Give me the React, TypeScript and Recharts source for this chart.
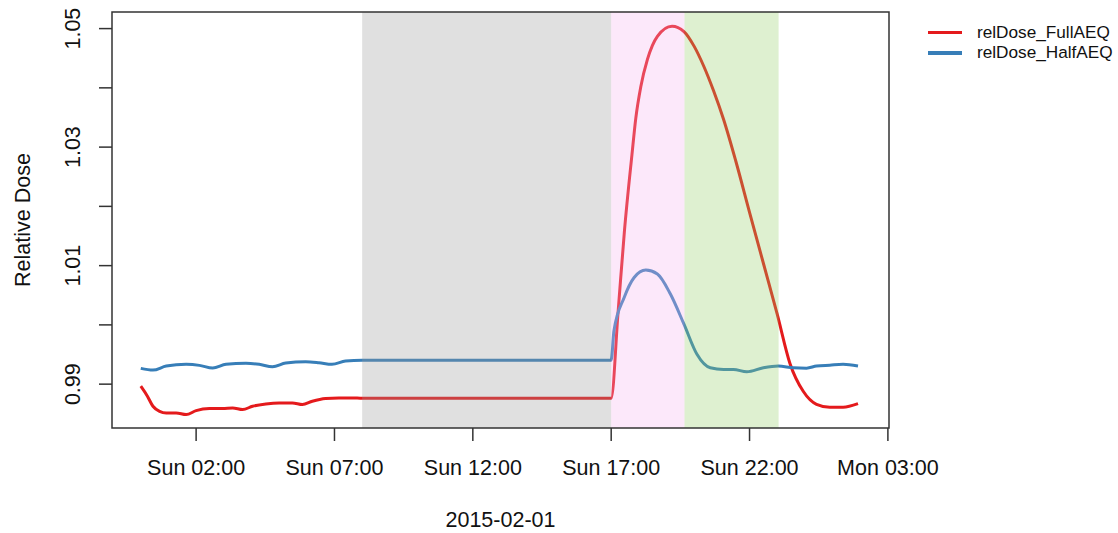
import React from "react";
import { LineChart, Line, XAxis, YAxis, ReferenceArea } from "recharts";

document.body.style.margin = "0";

const FONT = "'Liberation Sans', Arial, Helvetica, sans-serif";

// hours since 2015-02-01 00:00
const fullHours = [
  0, 0.24, 0.44, 0.68, 0.92, 1.28, 1.64, 2.0, 2.48, 2.96, 3.32, 3.68, 4.04, 4.52, 5.0, 5.48, 5.84, 6.2,
  6.68, 7.16, 7.64, 8.0, 17.0, 17.25, 17.48, 17.75, 17.89, 18.07, 18.31, 18.67, 19.2, 19.63, 20.0, 20.35,
  20.7, 21.06, 21.5, 22.0, 22.5, 23.0, 23.46, 23.94, 24.42, 24.9, 25.38, 25.92,
];
const fullDose = [
  0.98966, 0.98797, 0.98627, 0.98542, 0.98514, 0.98514, 0.98486, 0.98554, 0.98588, 0.98588, 0.98598,
  0.98571, 0.98627, 0.98666, 0.98683, 0.98683, 0.98656, 0.98712, 0.98758, 0.98768, 0.98768, 0.98762,
  0.98762, 1.0022, 1.0159, 1.0287, 1.0349, 1.0402, 1.0448, 1.0487, 1.0504, 1.0495, 1.047, 1.0436,
  1.0395, 1.0347, 1.0277, 1.019, 1.0104, 1.0018, 0.9935, 0.9888, 0.9866, 0.9861, 0.9861, 0.9867,
];

const halfHours = [
  0, 0.44, 0.92, 1.64, 2.12, 2.6, 3.08, 3.8, 4.28, 4.76, 5.24, 5.96, 6.44, 6.91, 7.4, 8.0, 17.0, 17.1,
  17.47, 17.83, 18.25, 18.67, 19.14, 19.63, 20.1, 20.58, 21.06, 21.42, 21.9, 22.5, 23.04, 23.58, 24.06,
  24.42, 24.9, 25.38, 25.92,
];
const halfDose = [
  0.99266, 0.99237, 0.99305, 0.99334, 0.99317, 0.99271, 0.99334, 0.99351, 0.99334, 0.99293, 0.99356,
  0.99378, 0.99361, 0.99334, 0.9939, 0.99405, 0.99405, 0.999, 1.00463, 1.008, 1.00925, 1.00859, 1.0052,
  1.00012, 0.99503, 0.99276, 0.99249, 0.99249, 0.99208, 0.99276, 0.99305, 0.99276, 0.9927, 0.99305,
  0.9932, 0.99334, 0.99305,
];

const xTicks = [2, 7, 12, 17, 22, 27];
const xTickLabels = ["Sun 02:00", "Sun 07:00", "Sun 12:00", "Sun 17:00", "Sun 22:00", "Mon 03:00"];
const yTicks = [0.99, 1.0, 1.01, 1.02, 1.03, 1.04, 1.05];
const yLabeled = [0.99, 1.01, 1.03, 1.05];

// shaded periods [start hour, end hour]
const periods = [
  { from: 8, to: 17, fill: "#989898" },
  { from: 17, to: 19.65, fill: "#F5B2EE" },
  { from: 19.65, to: 23.05, fill: "#91CD62" },
];

const xDomain = [-1.04, 27.04];
const yDomain = [0.9826, 1.0528];

const series = [
  { name: "relDose_FullAEQ", color: "#E41A1C", data: fullHours.map((h, i) => ({ hour: h, dose: fullDose[i] })) },
  { name: "relDose_HalfAEQ", color: "#377EB8", data: halfHours.map((h, i) => ({ hour: h, dose: halfDose[i] })) },
];

const YTick = (props: any) => {
  const { x, y, payload } = props;
  const v = payload.value;
  if (!yLabeled.some((l) => Math.abs(l - v) < 1e-9)) return null;
  const bx = x - 17;
  return (
    <text
      x={bx}
      y={y}
      transform={`rotate(-90, ${bx}, ${y})`}
      textAnchor="middle"
      fontSize={21.5}
      fontFamily={FONT}
      fill="#111"
    >
      {v.toFixed(2)}
    </text>
  );
};

const YLabel = (props: any) => {
  const { viewBox } = props;
  const cx = 30;
  const cy = viewBox.y + viewBox.height / 2;
  return (
    <text
      x={cx}
      y={cy}
      transform={`rotate(-90, ${cx}, ${cy})`}
      textAnchor="middle"
      fontSize={21.5}
      fontFamily={FONT}
      fill="#111"
    >
      Relative Dose
    </text>
  );
};

export default function App() {
  return (
    <div style={{ position: "relative", width: 1118, height: 533, background: "#fff" }}>
      <LineChart
        width={1118}
        height={533}
        margin={{ top: 12, right: 229, bottom: 0, left: 0 }}
        style={{ fontFamily: FONT }}
      >
        <XAxis
          type="number"
          dataKey="hour"
          domain={xDomain}
          ticks={xTicks}
          tickFormatter={(v: number) => xTickLabels[xTicks.indexOf(v)] ?? ""}
          height={105}
          axisLine={false}
          tickSize={13}
          tickMargin={19}
          tick={{ fontSize: 21.5, fill: "#111", fontFamily: FONT }}
          tickLine={{ stroke: "#333", strokeWidth: 1.5 }}
          allowDataOverflow
          label={{ value: "2015-02-01", position: "insideBottom", offset: 6, fontSize: 21.5, fill: "#111" }}
        />
        <YAxis
          type="number"
          domain={yDomain}
          ticks={yTicks}
          width={112}
          axisLine={false}
          tickSize={13}
          tickMargin={2}
          tick={<YTick />}
          tickLine={{ stroke: "#333", strokeWidth: 1.5 }}
          allowDataOverflow
          label={<YLabel />}
        />
        {series.map((s) => (
          <Line
            key={s.name}
            data={s.data}
            dataKey="dose"
            name={s.name}
            type="monotone"
            stroke={s.color}
            strokeWidth={3}
            dot={false}
            activeDot={false}
            isAnimationActive={false}
          />
        ))}
        {periods.map((p) => (
          <ReferenceArea
            key={p.from}
            x1={p.from}
            x2={p.to}
            fill={p.fill}
            fillOpacity={0.3}
            stroke="none"
            zIndex={450}
          />
        ))}
        <ReferenceArea
          x1={xDomain[0]}
          x2={xDomain[1]}
          y1={yDomain[0]}
          y2={yDomain[1]}
          fill="none"
          stroke="#333"
          strokeWidth={1.5}
          zIndex={460}
        />
      </LineChart>
      <div style={{ position: "absolute", left: 928, top: 22, fontFamily: FONT, fontSize: 17.2, color: "#111" }}>
        {series.map((s) => (
          <div key={s.name} style={{ display: "flex", alignItems: "center", height: 20.5 }}>
            <div style={{ width: 34, height: 3.5, background: s.color, marginRight: 15 }} />
            <span>{s.name}</span>
          </div>
        ))}
      </div>
    </div>
  );
}
